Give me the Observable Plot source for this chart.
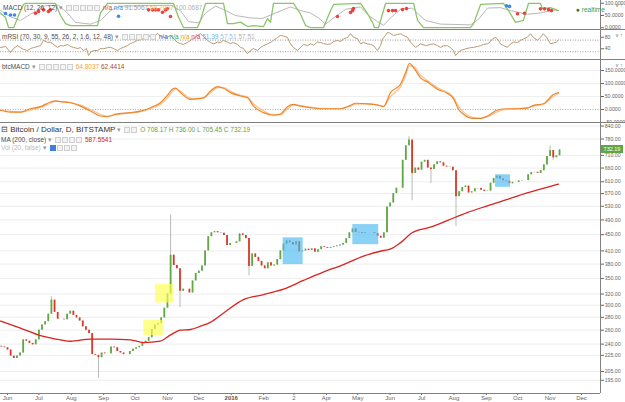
<!DOCTYPE html>
<html><head><meta charset="utf-8">
<script src="https://cdn.jsdelivr.net/npm/d3@7"></script>
<script src="https://cdn.jsdelivr.net/npm/@observablehq/plot@0.6"></script>
<style>
html,body{margin:0;padding:0;background:#fff;}
#chart{position:relative;width:625px;height:402px;overflow:hidden;font-family:"Liberation Sans",Arial,sans-serif;background:#fff;}
#chart svg{position:absolute;left:0;overflow:visible;}
#chart svg.clip{overflow:hidden;}
.ln{position:absolute;background:#808080;}
.leg{position:absolute;white-space:nowrap;font-size:6.5px;line-height:8px;color:#4d4d4d;}
.ico{display:inline-block;width:4px;height:4px;border:1px solid #cfcfcf;background:#f3f3f3;margin-right:1px;vertical-align:-1px;}
.ico.b{background:#3d7fe0;border-color:#3d7fe0;}
.arr{color:#999;margin:0 3px 0 2px;}
.tag{position:absolute;left:601px;width:22px;height:8px;background:#5ea544;color:#fff;font-size:5.5px;line-height:8px;text-align:center;}
</style></head>
<body><div id="chart"></div>
<script>
// ---------- DATA ----------
// day offsets are days since 2015-06-01 (UTC)
const candleStartDay = -6;      // first candle shown (one candle every 3 days)
const candleStepDays = 3;
const firstOpen = 237;
const closes = [236,235,232,224,221,224,228,246,244,241,
 239,246,260,268,273,285,309,288,277,277,
 276,285,290,283,279,274,265,260,255,226,
 225,222,228,227,227,236,235,230,228,226,
 226,230,233,235,237,241,244,249,261,268,
 270,279,295,320,400,377,370,325,329,329,
 322,345,360,365,376,410,445,455,458,455,
 454,448,423,428,428,432,452,448,440,375,
 403,395,386,376,370,383,376,378,390,410,
 426,434,430,424,432,408,410,414,411,415,
 407,413,420,418,416,418,420,422,424,428,
 440,455,465,456,455,453,455,455,455,453,
 446,441,455,528,540,570,588,588,690,750,
 775,640,660,652,683,690,660,655,673,684,
 680,667,664,663,650,560,576,590,595,572,
 576,586,587,581,577,578,605,622,630,620,
 614,612,603,608,608,613,614,614,635,643,
 644,640,650,672,705,730,700,708.17,732.19];
const wickHighIdx = [16,54,130,175];
const wickHighVal = [315,504,790,750];
const wickLowIdx = [31,57,79,131,137,145,176];
const wickLowVal = [197,296,355,547,605,471,690];

const maDays = [-6.7,12.4,31.6,50.7,60.3,79.4,98.5,117.6,130,146,156,165.5,175,184.6,194,206.7,225.7,244.9,264,283,302,321.4,340.5,359.6,366,376,387,404.6,420.6,439.7,458.8,478,497,516,527];
const maVals = [274,263,252,246,244,247,247,246,242,244,253,260,261,266,272,287,310,319,329,346,363,379,398,411,414,430,455,470,488,511,531,551,572,591,602];

const boxStart = [130.4,141.6,263.7,330.3,466.8];
const boxEnd   = [149.5,159.1,282.8,355.1,481.1];
const boxLow   = [252,304,379,425,591];
const boxHigh  = [275,338,442,477,635];
const boxColor = ["#ffff4d","#ffff4d","#4ab8f0","#4ab8f0","#4ab8f0"];

const priceTicks = [195,205,225,240,260,280,300,320,350,380,410,450,490,530,570,610,660,710,780,840];
const monthLabels = ["Jun","Jul","Aug","Sep","Oct","Nov","Dec","2016","Feb","2","Apr","May","Jun","Jul","Aug","Sep","Oct","Nov","Dec"];

// panel 1 (MACD-stoch)
const stochDays = [-7,-2,1,6,10.5,15.3,17.2,45.9,50.7,55.5,60.3,86.1,89,95.7,158.8,163.6,168.3,181.7,184.6,189.4,206.6,210.4,216.1,222.9,229.6,235.3,244.9,248.7,251.6,254.4,273.6,280.3,285.1,289.9,302.3,309,311.9,337.7,344.3,349.1,351,354.9,361.6,388.4,392.2,398,442.9,445.8,452.5,474.4,479.2,485.9,493.5,498.3,509.8,511.7,519.4,527];
const stochVals = [60,43,1,1,50,95,99,99,50,17,9,9,62,99,99,43,1,1,30,99,99,17,17,23,5,9,5,37,23,99,99,55,9,1,1,70,95,99,58,22,1,1,99,99,30,1,1,17,95,99,70,22,30,99,99,78,82,70];
const sigDays = [-6.7,2.9,12.4,22,36.3,48.8,57.4,65,79.4,89,98.5,108,155.9,165.5,173.1,182.7,189.4,199,208.5,218.1,232.4,243.9,256.3,270.7,280.3,289.9,297.5,304.2,311.9,323.3,337.7,345.3,353.9,359.6,366.3,375.9,387.4,393.1,399.8,414.2,442.9,450.6,459.1,471.5,481.1,497.4,509.8,522.3,527];
const sigVals = [70,45,30,55,90,92,60,22,15,30,70,88,92,70,25,20,60,88,70,50,40,38,60,85,70,60,40,15,40,75,85,50,25,10,40,75,80,55,30,15,12,35,80,82,70,55,60,72,70];
const redDays = [26.8,29.7,34.4,39.2,41.1,134.9,138.7,141.6,144.4,148.3,151.1,153,155.9,315.6,328.1,330,330.9,364.4,368.3,371.1,377.8,381.6,487.8,494.5,509.8,513.6,517.5,520.3];
const redVals = [59,66,73,66,73,73,73,73,73,63,73,77,46,46,62,70,78,70,70,70,74,78,57,59,77,77,74,70];
const blueDays = [-1.9,2.9,6.7,106.2,477.3,480.2];
const blueVals = [58,52,52,47,89,87];

// panel 2 (mRSI)
const rsiDays = [-6.7,-1.9,2.9,5.7,9.6,12.4,15.3,19.1,22,24.9,
 28.7,31.6,34.4,38.3,41.1,44,47.8,50.7,53.6,57.4,
 60.3,63.1,67,69.8,72.7,75.6,77.5,80.3,83.2,86.1,
 89,91.8,95.7,98.5,101.4,105.2,108.1,111,114.8,117.6,
 120.5,124.3,127.2,130.1,133.9,136.8,139.6,143.5,146.3,149.2,
 153,155.9,158.8,162.6,165.5,168.3,172.2,175,177.9,181.7,
 184.6,187.5,191.3,194.2,197,200.9,203.7,206.6,210.4,213.3,
 216.1,220,222.9,225.7,229.6,232.4,235.3,239.1,242,244.9,
 248.7,251.6,254.4,258.3,261.1,264,267.8,270.7,273.6,277.4,
 280.3,283.1,287,289.9,292.7,296.5,299.4,302.3,306.1,309,
 311.8,315.6,318.5,321.4,325.2,328.1,330.9,334.8,337.7,340.5,
 344.3,347.2,350.1,353.9,356.8,358.7,361.6,363.5,366.3,369.2,
 373,375.9,378.8,382.6,385.5,390.3,395.1,399.9,404.6,407.5,
 411.3,414.2,417.1,420.9,423.7,426.6,428.5,431.4,433.3,438.1,
 442.9,445.8,449.6,452.5,455.3,459.1,462,463.9,466.8,469.6,
 471.5,474.4,478.2,481.1,484,487.8,490.6,493.5,497.4,500.2,
 503.1,506.9,509.8,512.6,515.5,519.4,522.2,525.1,527];
const rsiVals = [44.5,48,27,41,51,44,38,34,41,44,
 48,51,69,62,63,55,45,51,50,55,
 48,45,41,44,34,41,17,31,34,34,
 41,40,44,45,41,34,41,45,51,58,
 62,69,72,74,79,86,82,93,84,80,
 79,86,75,62,58,55,62,69,75,86,
 92,82,69,62,57,63,62,69,63,58,
 62,55,45,41,23,34,41,34,45,51,
 57,62,69,79,86,84,79,57,44,34,
 45,55,51,57,53,63,62,58,55,57,
 65,69,65,74,79,92,80,75,57,62,
 57,55,51,34,51,74,86,97,93,86,
 89,92,86,80,63,45,57,51,55,57,
 51,45,50,51,44,34,17,27,34,40,
 44,45,48,51,55,57,65,74,80,69,
 57,51,45,57,63,62,69,74,80,92,
 79,69,80,92,80,57,60,63,71];

// panel 3 (btcMACD)
const macdDays = [-6.7,2.9,12.4,22,31.6,41.1,45.9,50.7,60.3,69.8,79.4,89,95.7,103.3,117.6,127.2,136.8,146.3,153,157.8,160.7,165.5,175,181.7,187.5,194.2,200.9,206.6,213.3,222.9,229.6,235.3,244.9,254.4,261.1,267.8,273.6,280.3,289.9,299.4,318.5,328.1,332.9,344.3,353.9,359.6,366.3,375.9,380.7,384.5,388.4,395.1,402.7,411.3,420.9,426.6,431.4,436.2,444.8,452.5,459.1,468.7,478.2,487.8,497.4,503.1,512.6,522.2,527];
const macdVals = [-3,-10,-10,3,11,29,33,30,26,13,-6,-25,-27,-18,-12,-6,7,26,55,78,82,65,39,42,45,71,88,82,65,52,45,13,-12,-22,-18,11,20,13,7,3,3,16,24,22,17,11,65,97,141,178,161,122,103,78,62,42,1,-18,-34,-34,-25,-2,3,3,6,16,22,58,64.8];
const macdSigVals = [-1,-7,-10,-2,8,24,31,31,27,17,0,-19,-26,-21,-13,-8,3,20,45,70,79,70,43,41,44,64,84,84,70,55,48,22,-5,-20,-20,3,17,15,9,4,3,13,21,22,18,12,50,88,128,168,166,132,108,84,66,48,12,-10,-30,-34,-28,-8,1,3,5,13,20,50,62.4];

// ---------- BUILD ----------
const BASE = Date.UTC(2015,5,1), DAY = 864e5;
const toDate = d => new Date(BASE + d*DAY);
const xDomain = [toDate(-6.7), toDate(567.2)];
const FONT = '"Liberation Sans", Arial, sans-serif';
const UP = "#5fa843", DOWN = "#d93a26";
const AX = {anchor:"right", tickSize:3, tickPadding:1.2, fontSize:5.2, color:"#666"};
const pairs = (ds, vs) => ds.map((d,i)=>({date:toDate(d), v:vs[i]}));

const candles = closes.map((c,i)=>{
  const o = i ? closes[i-1] : firstOpen;
  return {date:toDate(candleStartDay + candleStepDays*i), open:o, close:c, high:Math.max(o,c), low:Math.min(o,c)};
});
wickHighIdx.forEach((k,j)=>candles[k].high = wickHighVal[j]);
wickLowIdx.forEach((k,j)=>candles[k].low = wickLowVal[j]);
const ma = pairs(maDays, maVals);
const boxes = boxStart.map((s,i)=>({x1:toDate(s), x2:toDate(boxEnd[i]), y1:boxLow[i], y2:boxHigh[i], fill:boxColor[i]}));
const monthTicks = monthLabels.map((_,i)=>new Date(Date.UTC(2015,5+i,1)));
const labelOf = new Map(monthTicks.map((d,i)=>[+d, monthLabels[i]]));
const yearTick = monthTicks.filter(d=>labelOf.get(+d)==="2016");

const chart = document.getElementById("chart");
const baseStyle = {fontFamily:FONT, fontSize:"7px", background:"transparent"};
function place(svg, top, clip){ svg.style.top = top+"px"; if(clip) svg.classList.add("clip"); chart.appendChild(svg); return svg; }

// Panel 1
const p1 = Plot.plot({
  width:625, height:30, margin:0, marginRight:25, style:baseStyle,
  x:{type:"utc", domain:xDomain, axis:null},
  y:{domain:[-11,111], axis:null},
  marks:[
    Plot.line(pairs(sigDays,sigVals),{x:"date",y:"v",stroke:"#b8b8b8",strokeWidth:1}),
    Plot.line(pairs(stochDays,stochVals),{x:"date",y:"v",stroke:"#8cc46c",strokeWidth:1.3}),
    Plot.dot(pairs(redDays,redVals),{x:"date",y:"v",r:1.8,fill:"#f0403c"}),
    Plot.dot(pairs(blueDays,blueVals),{x:"date",y:"v",r:1.8,fill:"#3f8ae6"}),
    Plot.axisY([0,50,100],{...AX, tickFormat:d=>d.toFixed(4)})
  ]
});
place(p1,0);

// Panel 2
const p2 = Plot.plot({
  width:625, height:29.5, margin:0, marginRight:25, style:baseStyle,
  x:{type:"utc", domain:xDomain, axis:null},
  y:{domain:[1.4,103.1], axis:null},
  marks:[
    Plot.ruleY([70,30],{stroke:"#888",strokeDasharray:"1,1.5",strokeWidth:0.8}),
    Plot.line(pairs(rsiDays,rsiVals),{x:"date",y:"v",stroke:"#b38d62",strokeWidth:0.9}),
    Plot.axisY([40,80],AX)
  ]
});
place(p2,30);

// Panel 3
const p3 = Plot.plot({
  width:625, height:62.5, margin:0, marginRight:25, style:baseStyle,
  x:{type:"utc", domain:xDomain, axis:null},
  y:{domain:[-51.9,188.5], axis:null},
  marks:[
    Plot.ruleY([50,100,150],{stroke:"#efefef"}),
    Plot.ruleY([0],{stroke:"#999",strokeDasharray:"1,1.5",strokeWidth:0.8}),
    Plot.line(pairs(macdDays,macdSigVals),{x:"date",y:"v",stroke:"#f8c08a",strokeWidth:1.2,curve:"monotone-x"}),
    Plot.line(pairs(macdDays,macdVals),{x:"date",y:"v",stroke:"#f0862a",strokeWidth:1.2,curve:"monotone-x"}),
    Plot.axisY([-50,0,50,100,150],{...AX, tickFormat:d=>d.toFixed(4)})
  ]
});
place(p3,59.5,true);

// Main price panel
const main = Plot.plot({
  width:625, height:280, marginTop:1, marginBottom:9, marginLeft:0, marginRight:25, style:baseStyle,
  x:{type:"utc", domain:xDomain},
  y:{type:"log", domain:[180.7,852.6]},
  color:{type:"identity"},
  marks:[
    Plot.ruleY(priceTicks,{stroke:"#ededed"}),
    Plot.ruleX(candles,{x:"date",y1:"low",y2:"high",stroke:"#b9b9b9",strokeWidth:1}),
    Plot.ruleX(candles,{x:"date",y1:"open",y2:"close",stroke:d=>d.close>=d.open?UP:DOWN,strokeWidth:1.8}),
    Plot.line(ma,{x:"date",y:"v",stroke:"#d8231f",strokeWidth:1.3,curve:"monotone-x"}),
    Plot.rect(boxes,{x1:"x1",x2:"x2",y1:"y1",y2:"y2",fill:"fill",fillOpacity:0.65}),
    Plot.axisY(priceTicks,{...AX, tickFormat:d=>d.toFixed(2)}),
    Plot.axisX(monthTicks,{anchor:"bottom",tickFormat:d=>labelOf.get(+d)==="2016"?"":labelOf.get(+d),tickSize:2,tickPadding:0.5,fontSize:6,color:"#666"}),
    Plot.text(yearTick,{x:d=>d,text:d=>labelOf.get(+d),frameAnchor:"bottom",dy:6.5,fontSize:6,fontWeight:"bold",fill:"#555"})
  ]
});
place(main,122,true);

// frame lines
function hline(y,x1,x2){const d=document.createElement("div");d.className="ln";d.style.cssText=`top:${y}px;left:${x1}px;width:${x2-x1}px;height:1px`;chart.appendChild(d);}
function vline(x,y1,y2){const d=document.createElement("div");d.className="ln";d.style.cssText=`left:${x}px;top:${y1}px;height:${y2-y1}px;width:1px`;chart.appendChild(d);}
hline(29,0,625); hline(59,0,625); hline(121.5,0,625); hline(393,0,600);
vline(600,0,393);

// price tag
const tagY = 122 + main.scale("y").apply(732.19);
const tag = document.createElement("div"); tag.className="tag"; tag.style.top=(tagY-4)+"px"; tag.textContent="732.19"; chart.appendChild(tag);

// legends
function leg(html, left, top){const d=document.createElement("div");d.className="leg";d.style.left=left+"px";d.style.top=top+"px";d.innerHTML=html;chart.appendChild(d);}
const ICONS = '<span class="ico"></span><span class="ico"></span><span class="ico"></span><span class="ico"></span><span class="ico"></span>';
leg(`MACD (12, 26, 12)<span class="arr">▾</span>${ICONS} <span style="color:#e0443c">n/a</span> <span style="color:#3f8ae6">n/a</span> <span style="color:#9a9a9a">91.5067</span> <span style="color:#e0b84a">58.7007</span> <span style="color:#b0b0b0">100.0687</span>`, 3, 4);
leg(`<span style="color:#1e7d3a">●</span> <span style="color:#3a9a50">realtime</span>`, 576, 6);
leg(`mRSI (70, 30, 9, 55, 26, 2, 1.6, 12, 48)<span class="arr">▾</span>${ICONS} <span style="color:#3f6ee6">n/a</span> <span style="color:#3aa04a">n/a</span> <span style="color:#f09a2a">n/a</span> <span style="color:#e0443c">n/a</span> <span style="color:#6ab0e8">51.39</span> <span style="color:#9ac0e0">57.51</span> <span style="color:#b0b0b0">57.51</span>`, 2, 33);
leg(`btcMACD<span class="arr">▾</span>${ICONS} <span style="color:#f5a53a">64.8037</span> <span style="color:#a0521e">62.4414</span>`, 2, 62.5);
leg(`<span style="font-size:8px;color:#333">⊟ Bitcoin / Dollar, D, BITSTAMP</span><span class="arr">▾</span><span class="ico"></span><span class="ico"></span> <span style="color:#5ea544">O 708.17 H 736.00 L 705.45 C 732.19</span>`, 1, 126);
leg(`MA (200, close)<span class="arr">▾</span><span class="ico"></span><span class="ico"></span><span class="ico"></span><span class="ico"></span> <span style="color:#d8231f">587.5541</span>`, 1, 135.5);
leg(`<span style="color:#bbb">Vol (20, false)</span><span class="arr">▾</span><span class="ico b"></span><span class="ico"></span><span class="ico"></span><span class="ico"></span>`, 1, 143.5);
</script></body></html>
